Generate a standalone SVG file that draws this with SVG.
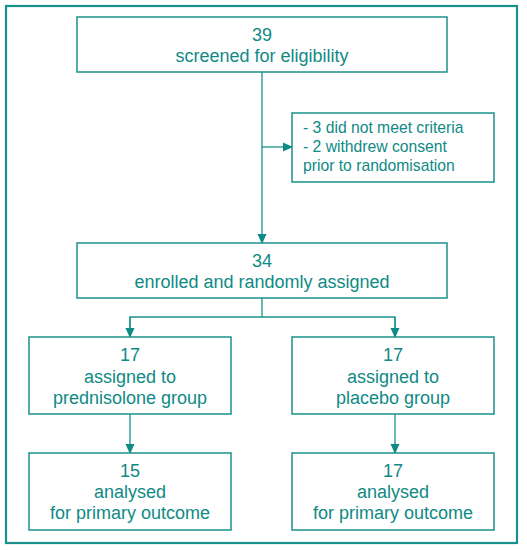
<svg xmlns="http://www.w3.org/2000/svg" width="527" height="550" viewBox="0 0 527 550">
<defs>
<style>
.box{fill:#fff;stroke:#1a918c;stroke-width:1.5}
.t{font-family:"Liberation Sans",Arial,sans-serif;font-size:18px;fill:#0f8a85;text-anchor:middle}
.s{font-family:"Liberation Sans",Arial,sans-serif;font-size:15.7px;fill:#0f8a85}
.ln{stroke:#1a918c;stroke-width:1.3;fill:none}
</style>
<marker id="ah" markerWidth="10" markerHeight="10" refX="9" refY="5" orient="auto" markerUnits="userSpaceOnUse">
<path d="M0,0.5 L10,5 L0,9.5 Z" fill="#0f8a85"/>
</marker>
</defs>
<rect x="0" y="0" width="527" height="550" fill="#fff"/>
<rect x="6" y="6" width="511" height="537" fill="none" stroke="#1a918c" stroke-width="2.2"/>
<g id="connectors">
<line class="ln" x1="262" y1="72" x2="262" y2="243" marker-end="url(#ah)"/>
<line class="ln" x1="262" y1="147" x2="292" y2="147" marker-end="url(#ah)"/>
<polyline class="ln" points="262,298 262,317"/>
<polyline class="ln" points="130,330 130,317 395,317 395,330"/>
<line class="ln" x1="130" y1="317" x2="130" y2="337" marker-end="url(#ah)"/>
<line class="ln" x1="395" y1="317" x2="395" y2="337" marker-end="url(#ah)"/>
<line class="ln" x1="130" y1="414" x2="130" y2="453" marker-end="url(#ah)"/>
<line class="ln" x1="395" y1="414" x2="395" y2="453" marker-end="url(#ah)"/>
</g>
<g id="screened">
<rect class="box" x="77" y="17" width="370" height="55"/>
<text class="t" x="262" y="41">39</text>
<text class="t" x="262" y="62">screened for eligibility</text>
</g>
<g id="excluded">
<rect class="box" x="292" y="113" width="202" height="69"/>
<text class="s" x="303" y="133">- 3 did not meet criteria</text>
<text class="s" x="303" y="152">- 2 withdrew consent</text>
<text class="s" x="303" y="171">prior to randomisation</text>
</g>
<g id="enrolled">
<rect class="box" x="77" y="243" width="370" height="55"/>
<text class="t" x="262" y="267">34</text>
<text class="t" x="262" y="288">enrolled and randomly assigned</text>
</g>
<g id="pred">
<rect class="box" x="29" y="337" width="202" height="77"/>
<text class="t" x="130" y="361">17</text>
<text class="t" x="130" y="383">assigned to</text>
<text class="t" x="130" y="404">prednisolone group</text>
</g>
<g id="placebo">
<rect class="box" x="292" y="337" width="202" height="77"/>
<text class="t" x="393" y="361">17</text>
<text class="t" x="393" y="383">assigned to</text>
<text class="t" x="393" y="404">placebo group</text>
</g>
<g id="pred-out">
<rect class="box" x="29" y="453" width="202" height="77"/>
<text class="t" x="130" y="477">15</text>
<text class="t" x="130" y="498">analysed</text>
<text class="t" x="130" y="519">for primary outcome</text>
</g>
<g id="placebo-out">
<rect class="box" x="292" y="453" width="202" height="77"/>
<text class="t" x="393" y="477">17</text>
<text class="t" x="393" y="498">analysed</text>
<text class="t" x="393" y="519">for primary outcome</text>
</g>
</svg>
